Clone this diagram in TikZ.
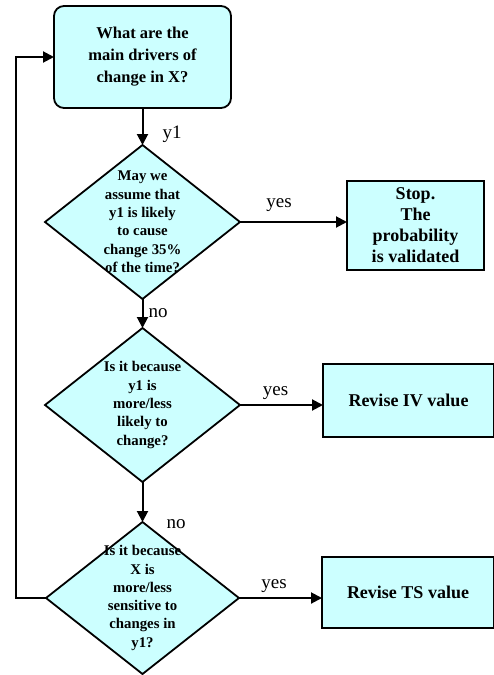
\documentclass[tikz,border=0pt]{standalone}
\usepackage{fontspec}
\setmainfont{Liberation Serif}
\usetikzlibrary{shapes.geometric,arrows.meta}
\definecolor{boxfill}{HTML}{CCFFFF}
\begin{document}
\begin{tikzpicture}[x=1pt,y=-1pt,
  every node/.style={inner sep=0pt,outer sep=0pt},
  base/.style={draw=black,line width=1.8pt,fill=boxfill},
  topbox/.style={base,rectangle,rounded corners=10pt,minimum width=177pt,minimum height=102pt,
     font=\bfseries\fontsize{16.5}{22}\selectfont,align=center},
  decision/.style={base,diamond,minimum width=195pt,minimum height=154pt},
  dtext/.style={font=\bfseries\fontsize{14.8}{18.3}\selectfont,align=center},
  resbox/.style={base,rectangle,font=\bfseries\fontsize{18}{21}\selectfont,align=center},
  lbl/.style={font=\fontsize{19}{22}\selectfont,anchor=base},
  arr/.style={line width=2pt,-{Triangle[length=11pt,width=11pt]}}]
\useasboundingbox (0,0) rectangle (493,675);

\node[topbox] (top) at (142.5,57) {What are the\\main drivers of\\change in X?};

\node[decision] (d1) at (142.5,222) {};
\node[dtext] (t1) at (d1.center) {May we\\assume that\\y1 is likely\\to cause\\change 35\%\\of the time?};

\node[decision] (d2) at (142.5,405) {};
\node[dtext] (t2) at (d2.center) {Is it because\\y1 is\\more/less\\likely to\\change?};

\node[decision,minimum height=152pt,minimum width=193pt] (d3) at (142.5,598) {};
\node[dtext] (t3) at (d3.center) {Is it because\\X is\\more/less\\sensitive to\\changes in\\y1?};

\node[resbox,minimum width=137pt,minimum height=89pt] (stop) at (415.5,225.5) {Stop.\\The\\probability\\is validated};
\node[resbox,minimum width=171pt,minimum height=73pt] (iv) at (408.5,400.5) {Revise IV value};
\node[resbox,minimum width=172pt,minimum height=71pt] (ts) at (408,592.5) {Revise TS value};

\draw[arr] (top.south) -- (d1.north);
\draw[arr] (d1.south) -- (d2.north);
\draw[arr] (d2.south) -- (d3.north);
\draw[arr] (d1.east) -- (d1.east -| stop.west);
\draw[arr] (d2.east) -- (d2.east -| iv.west);
\draw[arr] (d3.east) -- (d3.east -| ts.west);
\coordinate (lp) at (16,598);
\draw[arr] (d3.west) -- (lp) |- (top.west);

\node[lbl] (ly1) at (172,138) {y1};
\node[lbl] (lno1) at (158,317) {no};
\node[lbl] (lno2) at (176,528) {no};
\node[lbl] (lyes1) at (279,207) {yes};
\node[lbl] (lyes2) at (275.5,395) {yes};
\node[lbl] (lyes3) at (274,588) {yes};
\end{tikzpicture}
\end{document}
